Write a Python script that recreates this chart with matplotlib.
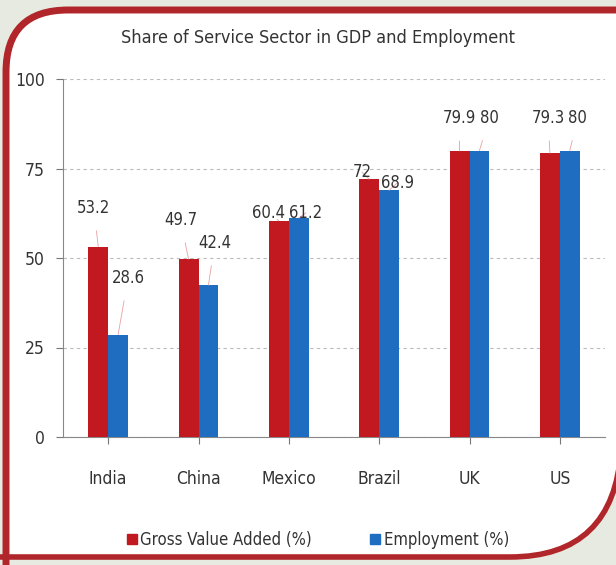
import matplotlib
matplotlib.use("Agg")
import matplotlib.pyplot as plt
from matplotlib.path import Path
from matplotlib.patches import PathPatch, Patch
import numpy as np

plt.rcParams['font.family'] = ['DejaVu Sans']
plt.rcParams['font.stretch'] = 'condensed'

countries = ["India", "China", "Mexico", "Brazil", "UK", "US"]
gva = [53.2, 49.7, 60.4, 72, 79.9, 79.3]
employment = [28.6, 42.4, 61.2, 68.9, 80, 80]
gva_labels = ["53.2", "49.7", "60.4", "72", "79.9", "79.3"]
emp_labels = ["28.6", "42.4", "61.2", "68.9", "80", "80"]

# label positions (data units) relative to category centre
gva_lab_dx = [-0.16, -0.20, -0.23, -0.19, -0.11, -0.13]
gva_lab_y = [64, 60.6, 62.6, 74, 89.1, 89.1]
emp_lab_dx = [0.22, 0.18, 0.19, 0.20, 0.22, 0.20]
emp_lab_y = [44.4, 54.2, 62.6, 71, 89.1, 89.1]

red = '#C1191F'
blue = '#1F6DC0'
txt = '#333333'

W, H = 616, 565
fig = plt.figure(figsize=(W / 100, H / 100), dpi=100)
fig.patch.set_facecolor('#E6EAE0')

# rounded red frame (pixel coords, y from top)
def fp(x, y):
    return (x / W, 1 - y / H)

r = 62
L, T, B = 6, 10, 557
inner = [fp(L, H + 5), fp(L, T + r), fp(L, T), fp(L + r, T), fp(W + 5, T),
         fp(W + 5, 450), fp(W - 2, B), fp(510, B), fp(L, B), fp(L, H + 5)]
icodes = [Path.MOVETO, Path.LINETO, Path.CURVE3, Path.CURVE3, Path.LINETO,
          Path.LINETO, Path.CURVE3, Path.CURVE3, Path.LINETO, Path.CLOSEPOLY]
fig.patches.append(PathPatch(Path(inner, icodes), transform=fig.transFigure,
                             facecolor='white', edgecolor='none', zorder=0))
fr = [fp(L, H + 5), fp(L, T + r), fp(L, T), fp(L + r, T), fp(W + 10, T)]
fc = [Path.MOVETO, Path.LINETO, Path.CURVE3, Path.CURVE3, Path.LINETO]
fig.patches.append(PathPatch(Path(fr, fc), transform=fig.transFigure,
                             facecolor='none', edgecolor='#B0262A', lw=5, zorder=1))
fr2 = [fp(W + 5, 450), fp(W - 2, B), fp(510, B), fp(-10, B)]
fc2 = [Path.MOVETO, Path.CURVE3, Path.CURVE3, Path.LINETO]
fig.patches.append(PathPatch(Path(fr2, fc2), transform=fig.transFigure,
                             facecolor='none', edgecolor='#B0262A', lw=4, zorder=1))

ax = fig.add_axes([63 / W, 1 - 437 / H, (605 - 63) / W, (437 - 79) / H])
ax.set_facecolor('none')
ax.set_zorder(3)

x = np.arange(len(countries))
w = 0.22
ax.bar(x - w / 2, gva, w, color=red, zorder=3, label='Gross Value Added (%)')
ax.bar(x + w / 2, employment, w, color=blue, zorder=3, label='Employment (%)')

for i in range(len(countries)):
    for dx, ly, val, lab in [(gva_lab_dx[i], gva_lab_y[i], gva[i], gva_labels[i]),
                             (emp_lab_dx[i], emp_lab_y[i], employment[i], emp_labels[i])]:
        side = -w / 2 if dx < 0 else w / 2
        ax.annotate(lab, xy=(i + side, val), xytext=(i + dx, ly),
                    ha='center', va='center', fontsize=12, color=txt,
                    arrowprops=dict(arrowstyle='-', color='#E8A0A0', lw=0.6,
                                    shrinkA=8, shrinkB=0))

ax.set_xlim(-0.5, 5.5)
ax.set_ylim(0, 100)
ax.set_yticks([0, 25, 50, 75, 100])
ax.set_xticks(x)
ax.set_xticklabels(countries)
ax.tick_params(axis='both', labelsize=12.5, colors='#777777', labelcolor=txt,
               length=5)
ax.tick_params(axis='x', pad=19)
ax.tick_params(axis='y', pad=8)
ax.yaxis.grid(True, linestyle=(0, (3, 3)), color='#BBBBBB', lw=0.8)
for s in ['top', 'right']:
    ax.spines[s].set_visible(False)
for s in ['left', 'bottom']:
    ax.spines[s].set_color('#888888')

fig.text(318 / W, 1 - 38 / H, "Share of Service Sector in GDP and Employment",
         ha='center', va='center', fontsize=13, color=txt)

handles = [Patch(color=red), Patch(color=blue)]
fig.legend(handles, ['Gross Value Added (%)', 'Employment (%)'],
           loc='center', bbox_to_anchor=(318 / W, 1 - 540 / H), ncol=2,
           frameon=False, fontsize=12, handlelength=0.6, handleheight=0.6,
           handletextpad=0.2, columnspacing=3.5, labelcolor=txt)

fig.savefig('out.png', dpi=100)
